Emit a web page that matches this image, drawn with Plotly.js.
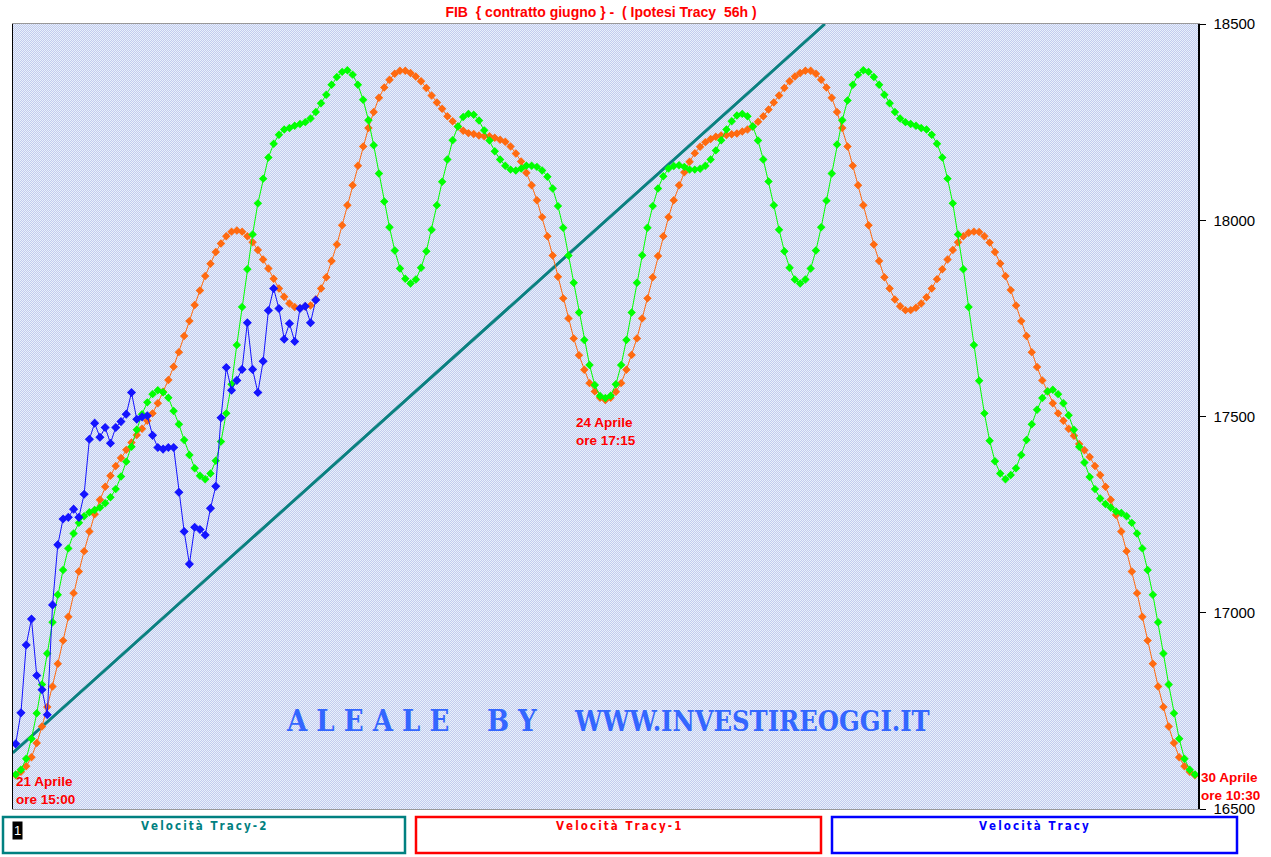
<!DOCTYPE html>
<html>
<head>
<meta charset="utf-8">
<script src="https://cdn.plot.ly/plotly-3.0.1.min.js"></script>
<style>
	html, body { margin: 0; padding: 0; background: #ffffff; }
	#graph { width: 1271px; height: 857px; }
</style>
</head>
<body>
<div id="graph"></div>
<script>
var TITLE = "FIB\u00a0 { contratto giugno } -\u00a0 ( Ipotesi Tracy\u00a0 56h )";

var yTicks = [16500, 17000, 17500, 18000, 18500];

var legendNames = ["Velocit\u00e0 Tracy-2", "Velocit\u00e0 Tracy-1", "Velocit\u00e0 Tracy"];

var dateLabels = ["21 Aprile<br>ore 15:00", "24 Aprile<br>ore 17:15", "30 Aprile<br>ore 10:30"];

// orange curve, one value per step
var tracy1 =
[
	16586, 16595, 16609, 16632, 16668, 16710, 16760, 16812, 16870, 16929,
	16990, 17050, 17105, 17157, 17207, 17251, 17288, 17321, 17349, 17374,
	17394, 17415, 17434, 17453, 17469, 17489, 17508, 17534, 17563, 17593,
	17627, 17664, 17705, 17743, 17784, 17821, 17858, 17889, 17919, 17941,
	17959, 17971, 17974, 17971, 17959, 17944, 17924, 17900, 17877, 17851,
	17826, 17805, 17788, 17779, 17776, 17780, 17783, 17798, 17826, 17855,
	17896, 17938, 17987, 18038, 18089, 18139, 18188, 18235, 18276, 18312,
	18338, 18358, 18373, 18381, 18381, 18375, 18366, 18354, 18337, 18318,
	18300, 18284, 18265, 18252, 18239, 18228, 18222, 18220, 18216, 18214,
	18214, 18210, 18205, 18200, 18188, 18170, 18150, 18121, 18089, 18051,
	18008, 17959, 17910, 17856, 17801, 17750, 17699, 17656, 17619, 17585,
	17564, 17548, 17542, 17548, 17563, 17585, 17619, 17657, 17699, 17750,
	17801, 17855, 17909, 17959, 18008, 18051, 18089, 18122, 18149, 18171,
	18187, 18199, 18207, 18213, 18216, 18217, 18219, 18221, 18226, 18231,
	18239, 18251, 18265, 18282, 18300, 18318, 18337, 18354, 18366, 18375,
	18381, 18381, 18373, 18358, 18338, 18312, 18276, 18235, 18188, 18139,
	18089, 18038, 17987, 17938, 17896, 17855, 17826, 17798, 17781, 17771,
	17771, 17777, 17788, 17804, 17826, 17850, 17875, 17900, 17924, 17944,
	17959, 17968, 17971, 17970, 17959, 17943, 17919, 17890, 17858, 17822,
	17783, 17743, 17705, 17664, 17626, 17592, 17564, 17534, 17508, 17489,
	17469, 17451, 17430, 17414, 17397, 17374, 17351, 17321, 17288, 17249,
	17207, 17157, 17105, 17050, 16990, 16929, 16870, 16812, 16760, 16710,
	16668, 16632, 16609, 16595, 16586
];

// green curve
var tracy2 =
[
	16588, 16600, 16628, 16679, 16744, 16817, 16896, 16976, 17046, 17109,
	17164, 17202, 17229, 17246, 17256, 17262, 17268, 17279, 17294, 17315,
	17347, 17385, 17423, 17466, 17506, 17536, 17557, 17567, 17562, 17548,
	17514, 17480, 17440, 17402, 17368, 17349, 17340, 17355, 17387, 17436,
	17508, 17582, 17682, 17779, 17875, 17964, 18043, 18106, 18160, 18195,
	18218, 18231, 18235, 18241, 18245, 18250, 18259, 18276, 18298, 18320,
	18345, 18365, 18378, 18382, 18371, 18345, 18307, 18255, 18191, 18119,
	18048, 17982, 17923, 17877, 17851, 17839, 17849, 17879, 17921, 17976,
	18038, 18098, 18155, 18204, 18239, 18263, 18271, 18269, 18254, 18229,
	18203, 18176, 18155, 18139, 18129, 18127, 18132, 18139, 18139, 18136,
	18127, 18111, 18081, 18036, 17981, 17910, 17841, 17765, 17695, 17631,
	17580, 17552, 17547, 17553, 17582, 17631, 17695, 17765, 17841, 17911,
	17981, 18036, 18081, 18112, 18132, 18138, 18140, 18136, 18129, 18129,
	18131, 18139, 18155, 18178, 18204, 18231, 18252, 18267, 18271, 18265,
	18239, 18203, 18155, 18099, 18038, 17976, 17921, 17879, 17849, 17839,
	17849, 17877, 17923, 17982, 18050, 18119, 18193, 18255, 18305, 18345,
	18371, 18382, 18378, 18365, 18345, 18320, 18298, 18276, 18259, 18250,
	18245, 18241, 18235, 18231, 18218, 18195, 18160, 18106, 18043, 17964,
	17875, 17779, 17682, 17591, 17508, 17438, 17386, 17355, 17340, 17351,
	17368, 17402, 17440, 17480, 17517, 17547, 17564, 17568, 17557, 17534,
	17503, 17466, 17423, 17383, 17346, 17315, 17291, 17277, 17268, 17258,
	17254, 17246, 17229, 17202, 17164, 17109, 17046, 16976, 16896, 16817,
	16744, 16679, 16628, 16600, 16588
];

// blue, real price so far
var tracy0 =
[
	16666, 16745, 16918, 16984, 16840, 16804, 16740, 17020, 17173, 17239,
	17243, 17264, 17243, 17302, 17442, 17483, 17447, 17472, 17432, 17472,
	17487, 17506, 17561, 17493, 17499, 17502, 17452, 17421, 17417, 17421,
	17421, 17307, 17207, 17124, 17218, 17212, 17198, 17266, 17322, 17497,
	17625, 17567, 17592, 17620, 17739, 17620, 17561, 17641, 17770, 17826,
	17775, 17697, 17737, 17691, 17775, 17781, 17739, 17797
];

// teal trend line ends
var trendX = [-0.55, 153.7];
var trendY = [16643, 18500];

var W = 1271, H = 857;
var ML = 13, MR = 73, MT = 24, MB = 48;

function px(x)
{
	return (x - ML) / (W - ML - MR);
}

function py(y)
{
	return (H - MB - y) / (H - MT - MB);
}

function steps(arr)
{
	var i, out = [];

	for (i = 0; i < arr.length; i++)
		out.push(i);
	return out;
}

// spread letters a bit, like the old bitmap font
function spaced(s)
{
	return s.split("").join("\u2009");
}

// bluish dither behind the plot
function texture()
{
	var w = W - ML - MR, h = H - MT - MB, svg;

	svg = '<svg xmlns="http://www.w3.org/2000/svg" width="' + w + '" height="' + h + '" shape-rendering="crispEdges">' +
		'<defs><pattern id="p" width="2" height="2" patternUnits="userSpaceOnUse">' +
		'<rect width="2" height="2" fill="#e8f1fb"/>' +
		'<rect width="1" height="1" fill="#c3cbee"/>' +
		'<rect x="1" y="1" width="1" height="1" fill="#c3cbee"/>' +
		'</pattern></defs>' +
		'<rect width="' + w + '" height="' + h + '" fill="url(#p)"/></svg>';

	return "data:image/svg+xml;charset=utf-8," + encodeURIComponent(svg);
}

function series(vals, color, size)
{
	return {
		type: "scatter",
		mode: "lines+markers",
		x: steps(vals),
		y: vals,
		line: {color: color, width: 1},
		marker: {symbol: "diamond", size: size, color: color, line: {width: 0}},
		hoverinfo: "skip"
	};
}

function box(x0, x1, color)
{
	return {
		type: "rect", xref: "paper", yref: "paper",
		x0: px(x0), x1: px(x1), y0: py(817), y1: py(853),
		line: {color: color, width: 2.5},
		fillcolor: "#ffffff"
	};
}

function label(text, x, y, color, size, anchor, font)
{
	return {
		text: text, xref: "paper", yref: "paper",
		x: px(x), y: py(y),
		xanchor: anchor, yanchor: "middle", align: "left",
		showarrow: false,
		font: {family: font || "Liberation Sans, Arial, sans-serif", size: size, color: color, weight: "bold"}
	};
}

function genGraph()
{
	var data, layout, trend, ann, serif, narrow;

	serif = "DejaVu Serif Condensed, DejaVu Serif, serif";
	narrow = "DejaVu Sans Condensed, DejaVu Sans, sans-serif";

	trend =
	{
		type: "scatter",
		mode: "lines",
		x: trendX,
		y: trendY,
		line: {color: "#0a8080", width: 3},
		hoverinfo: "skip"
	};

	data = [trend, series(tracy1, "#ff6a10", 6.5), series(tracy2, "#00ff00", 6.5), series(tracy0, "#1414ff", 7)];

	ann =
	[
		label(dateLabels[0], 14, 790, "#ff0000", 13.5, "left"),
		label(dateLabels[1], 606, 431, "#ff0000", 13.5, "center"),
		label(dateLabels[2], 1199, 786, "#ff0000", 13.5, "left"),
		label("A\u00a0L\u00a0E\u00a0A\u00a0L\u00a0E", 367, 721, "#3366ff", 29, "center", serif),
		label("B\u00a0Y", 512, 721, "#3366ff", 29, "center", serif),
		label("WWW.INVESTIREOGGI.IT", 752, 721, "#3366ff", 27, "center", serif),
		label(spaced(legendNames[0]), 203, 826, "#008080", 11.5, "center", narrow),
		label(spaced(legendNames[1]), 618, 826, "#ff0000", 11.5, "center", narrow),
		label(spaced(legendNames[2]), 1034, 826, "#0000ff", 11.5, "center", narrow)
	];

	ann.push({
		text: "1", xref: "paper", yref: "paper", x: px(12), y: py(830),
		xanchor: "left", yanchor: "middle", showarrow: false,
		bgcolor: "#000000", borderpad: 1,
		font: {family: "Liberation Sans, Arial, sans-serif", size: 13, color: "#ffffff"}
	});

	layout =
	{
		width: W,
		height: H,
		margin: {l: ML, r: MR, t: MT, b: MB, pad: 0},
		paper_bgcolor: "#ffffff",
		plot_bgcolor: "#d8e0f3",
		showlegend: false,
		title:
		{
			text: TITLE,
			xref: "container", x: 601 / W, xanchor: "center",
			yref: "container", y: 1 - 12 / H, yanchor: "middle",
			font: {family: "Liberation Sans, Arial, sans-serif", size: 14, color: "#ff0000", weight: "bold"}
		},
		xaxis:
		{
			range: [-0.51, 224.57],
			showgrid: false,
			zeroline: false,
			showticklabels: false,
			ticks: "",
			showline: true,
			linecolor: "#999999",
			linewidth: 1,
			mirror: true
		},
		yaxis:
		{
			side: "right",
			range: [16500, 18500],
			tickvals: yTicks,
			ticktext: yTicks.map(String),
			showgrid: false,
			zeroline: false,
			ticks: "outside",
			ticklen: 6,
			tickcolor: "#000000",
			ticklabelstandoff: 5,
			showline: true,
			linecolor: "#000000",
			linewidth: 1.5,
			mirror: true,
			tickfont: {family: "Liberation Sans, Arial, sans-serif", size: 15, color: "#000000"}
		},
		images:
		[
			{
				source: texture(),
				xref: "paper", yref: "paper",
				x: 0, y: 1, sizex: 1, sizey: 1,
				xanchor: "left", yanchor: "top",
				sizing: "stretch", layer: "below"
			}
		],
		shapes: [box(3, 405, "#008080"), box(416, 821, "#ff0000"), box(832, 1237, "#0000ff")],
		annotations: ann
	};

	Plotly.newPlot("graph", data, layout, {displayModeBar: false, staticPlot: true});
}

genGraph();
</script>
</body>
</html>
